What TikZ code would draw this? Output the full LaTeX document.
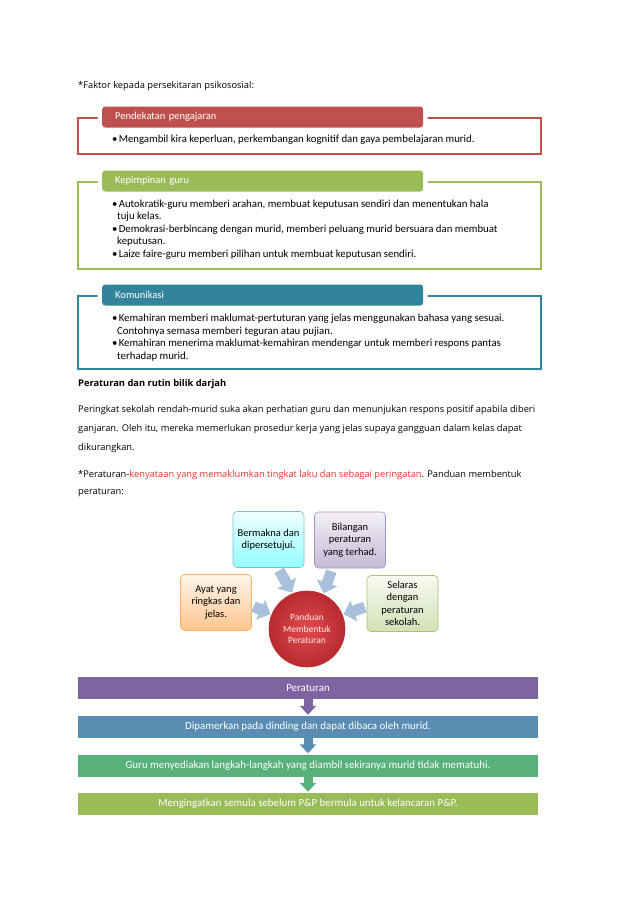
\documentclass[tikz,border=0pt]{standalone}
\usepackage{fontspec}
\setmainfont{Carlito}
\newfontfamily\komik{Open Sans}
\usetikzlibrary{arrows.meta,positioning,calc}

\definecolor{merah}{HTML}{C0504D}
\definecolor{hijau}{HTML}{9BBB59}
\definecolor{biru}{HTML}{31849B}
\definecolor{ungu}{HTML}{8064A2}
\definecolor{birubar}{HTML}{5B8DB3}
\definecolor{hijaubar}{HTML}{58B07B}
\definecolor{panahbiru}{HTML}{A9C0DD}
\definecolor{teksmerah}{HTML}{E53030}
\definecolor{bulatdalam}{HTML}{E24A4C}
\definecolor{bulatluar}{HTML}{B82B2F}
\newcommand{\titik}{\textbullet\hspace{1.2pt}}
\newcommand{\lanjut}{\hspace*{5pt}}

\begin{document}
\begin{tikzpicture}[x=1pt,y=-1pt,>=Latex]
  \tikzstyle{bingkai}=[draw,line width=1.5pt,minimum width=463pt,inner sep=0pt,fill=white,anchor=north west]
  \tikzstyle{tab}=[rounded corners=3pt,preaction={draw=white,line width=9pt},minimum height=21pt,text width=295pt,inner xsep=13pt,align=left,text=white,anchor=west,font=\fontsize{10.5}{12}\selectfont]
  \tikzstyle{isi}=[anchor=west,align=left,inner sep=0pt,font=\fontsize{10.8}{12.6}\selectfont]
  \tikzstyle{teks}=[anchor=west,align=left,inner sep=0pt,font=\komik\fontsize{9.3}{19}\selectfont]
  \tikzstyle{kotak}=[rounded corners=4pt,line width=0.6pt,minimum width=71pt,minimum height=56pt,align=center,inner sep=2pt,font=\fontsize{10.5}{12.5}\selectfont]
  \tikzstyle{panah}=[line width=11pt,draw=panahbiru,-{Triangle[length=11pt,width=21pt]}]
  \tikzstyle{bar}=[minimum width=460pt,minimum height=22pt,inner sep=0pt,text=white,font=\fontsize{10.9}{12}\selectfont]
  \tikzstyle{turun}=[line width=9pt,-{Triangle[length=9pt,width=16pt]},shorten >=1pt]
  \useasboundingbox (0,0) rectangle (638,903);
  \fill[white] (0,0) rectangle (638,903);

  % persekitaran psikososial
  \node[teks] (judul) at (78,86) {*Faktor kepada persekitaran psikososial:};

  \node[bingkai,draw=merah,minimum height=36pt] (bingkai1) at (77,117) {};
  \node[tab,fill=merah] (tab1) at ($(bingkai1.north west)+(25,0)$) {Pendekatan pengajaran};
  \node[isi] (isi1) at (112,140) {\titik Mengambil kira keperluan, perkembangan kognitif dan gaya pembelajaran murid.};

  \node[bingkai,draw=hijau,minimum height=87pt] (bingkai2) at (77,181) {};
  \node[tab,fill=hijau] (tab2) at ($(bingkai2.north west)+(25,0)$) {Kepimpinan guru};
  \node[isi] (isi2) at (112,229.5) {\titik Autokratik-guru memberi arahan, membuat keputusan sendiri dan menentukan hala\\
    \lanjut tuju kelas.\\
    \titik Demokrasi-berbincang dengan murid, memberi peluang murid bersuara dan membuat\\
    \lanjut keputusan.\\
    \titik Laize faire-guru memberi pilihan untuk membuat keputusan sendiri.};

  \node[bingkai,draw=biru,minimum height=73pt] (bingkai3) at (77,295) {};
  \node[tab,fill=biru] (tab3) at ($(bingkai3.north west)+(25,0)$) {Komunikasi};
  \node[isi] (isi3) at (112,337.5) {\titik Kemahiran memberi maklumat-pertuturan yang jelas menggunakan bahasa yang sesuai.\\
    \lanjut Contohnya semasa memberi teguran atau pujian.\\
    \titik Kemahiran menerima maklumat-kemahiran mendengar untuk memberi respons pantas\\
    \lanjut terhadap murid.};

  % peraturan dan rutin
  \node[teks,font=\komik\bfseries\fontsize{9.3}{19}\selectfont] (subjudul) at (78,384) {Peraturan dan rutin bilik darjah};
  \node[teks] (perenggan) at (78,429) {Peringkat sekolah rendah-murid suka akan perhatian guru dan menunjukan respons positif apabila diberi\\
    ganjaran. Oleh itu, mereka memerlukan prosedur kerja yang jelas supaya gangguan dalam kelas dapat\\
    dikurangkan.};
  \node[teks,font=\komik\fontsize{9.3}{17}\selectfont] (definisi) at (78,483.5) {*Peraturan-\textcolor{teksmerah}{kenyataan yang memaklumkan tingkat laku dan sebagai peringatan}. Panduan membentuk\\
    peraturan:};

  % panduan membentuk peraturan
  \node[circle,minimum size=76pt,inner sep=0pt,draw=bulatluar,line width=0.6pt,shading=radial,inner color=bulatdalam,outer color=bulatluar,align=center,text=white!88!merah,font=\fontsize{9.5}{11.5}\selectfont] (panduan) at (307,629) {Panduan\\Membentuk\\Peraturan};
  \node[kotak,draw=cyan!45!teal!60,top color=cyan!6,bottom color=cyan!42!white] (bermakna) at (268.5,539.5) {Bermakna dan\\dipersetujui.};
  \node[kotak,draw=ungu!70,top color=ungu!10,bottom color=ungu!45!white] (bilangan) at (350,540) {Bilangan\\peraturan\\yang terhad.};
  \node[kotak,draw=orange!60,top color=orange!8,bottom color=orange!45!white] (ayat) at (216,602.5) {Ayat yang\\ringkas dan\\jelas.};
  \node[kotak,draw=hijau!85,top color=hijau!8,bottom color=hijau!45!white] (selaras) at (402.5,603.5) {Selaras\\dengan\\peraturan\\sekolah.};
  \draw[panah,shorten <=3pt,shorten >=1pt] (bermakna.-72) -- (panduan.112);
  \draw[panah,shorten <=3pt,shorten >=1pt] (bilangan.-122) -- (panduan.65);
  \draw[panah,shorten <=2pt,shorten >=1pt] (ayat.-5) -- (panduan.158);
  \draw[panah,shorten <=2pt,shorten >=1pt] (selaras.185) -- (panduan.22);

  % langkah peraturan
  \node[bar,fill=ungu] (peraturan) at (308,688) {Peraturan};
  \node[bar,fill=birubar] (dipamerkan) at (308,727) {Dipamerkan pada dinding dan dapat dibaca oleh murid.};
  \node[bar,fill=hijaubar] (langkah) at (308,765.5) {Guru menyediakan langkah-langkah yang diambil sekiranya murid tidak mematuhi.};
  \node[bar,fill=hijau] (mengingat) at (308,804) {Mengingatkan semula sebelum P\&P bermula untuk kelancaran P\&P.};
  \draw[turun,draw=ungu] (peraturan) -- (dipamerkan);
  \draw[turun,draw=birubar] (dipamerkan) -- (langkah);
  \draw[turun,draw=hijaubar] (langkah) -- (mengingat);
\end{tikzpicture}
\end{document}
